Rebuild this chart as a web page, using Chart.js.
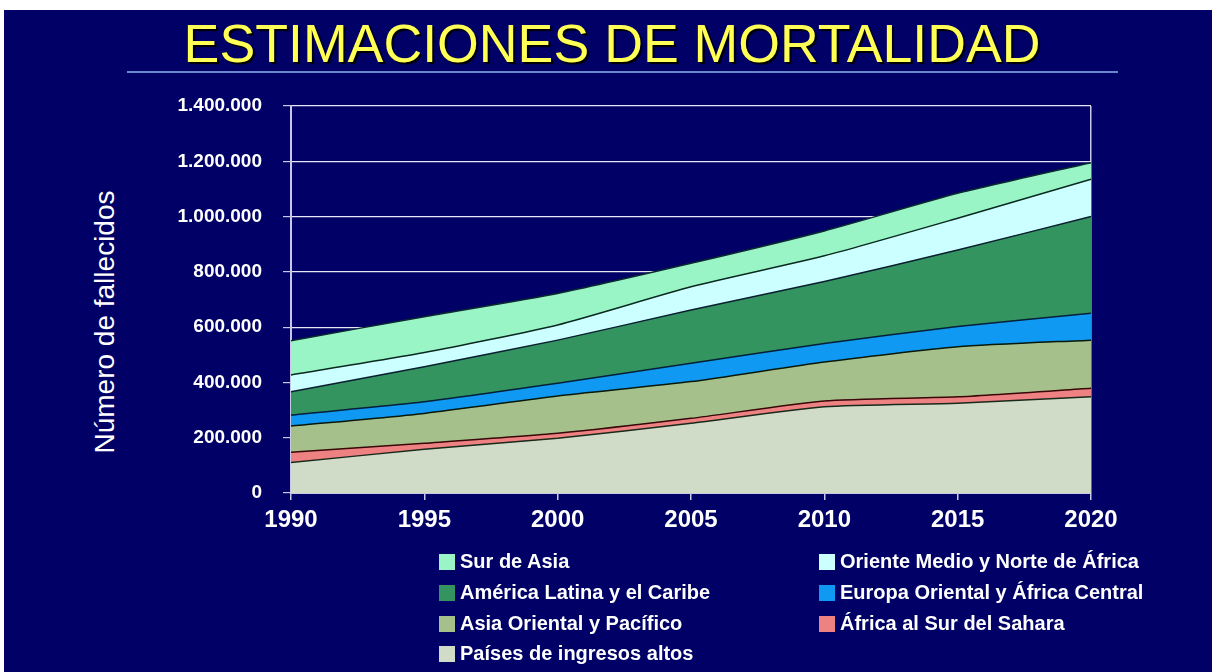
<!DOCTYPE html>
<html>
<head>
<meta charset="utf-8">
<script src="https://cdn.jsdelivr.net/npm/chart.js@4.4.1/dist/chart.umd.min.js"></script>
<style>
  html, body { margin:0; padding:0; background:#ffffff; width:1224px; height:672px; overflow:hidden; }
  #frame { position:absolute; left:4px; top:10px; width:1208px; height:662px; background:#000066; }
  #title { position:absolute; left:0; top:17px; width:1224px; text-align:center; font-family:"Liberation Sans", Arial, sans-serif;
           font-size:53px; line-height:53px; color:#ffff55; text-shadow:2px 2px 1px #000000; white-space:nowrap; }
  #title span { display:inline-block; transform-origin:center; }
  #rule { position:absolute; left:127px; top:71px; width:991px; height:2px; background:#6a86cc; }
  #ytitle { position:absolute; left:105px; top:322px; transform:translate(-50%,-50%) rotate(-90deg);
            font-family:"Liberation Sans", Arial, sans-serif; font-size:28px; color:#ffffff; white-space:nowrap; }
  canvas { position:absolute; left:0; top:0; }
  .leg { position:absolute; font-family:"Liberation Sans", Arial, sans-serif; font-weight:bold; font-size:20px; color:#ffffff; white-space:nowrap; }
  .leg i { position:absolute; left:0; top:0; width:16px; height:16px; }
  .leg b { position:absolute; left:21px; top:-4px; font-weight:bold; }
</style>
</head>
<body>
<div id="frame"></div>
<div id="title"><span id="tspan">ESTIMACIONES DE MORTALIDAD</span></div>
<div id="rule"></div>
<div id="ytitle">Número de fallecidos</div>
<canvas id="c" width="1224" height="672"></canvas>
<div id="legend"></div>
<script>
// Categories (years)
const years = ['1990', '1995', '2000', '2005', '2010', '2015', '2020'];

// Series values (deaths per region, stacked), bottom to top
const paisesAltos   = [110000, 158000, 198000, 252000, 312000, 325000, 348000];
const africaSur     = [ 37000,  22000,  18000,  18000,  21000,  23000,  31000];
const asiaOriental  = [ 95000, 108000, 135000, 133000, 141000, 181000, 174000];
const europaOrient  = [ 40000,  42000,  46000,  66000,  67000,  73000,  97000];
const americaLatina = [ 84000, 127000, 156000, 193000, 224000, 277000, 350000];
const orienteMedio  = [ 61000,  51000,  55000,  84000,  93000, 115000, 135000];
const surAsia       = [124000, 130000, 114000,  85000,  90000,  90000,  60000];

// Y tick values
const yTicks = [0, 200000, 400000, 600000, 800000, 1000000, 1200000, 1400000];

// fit title width
(function(){
  const s = document.getElementById('tspan');
  const w = s.getBoundingClientRect().width;
  s.style.transform = 'scaleX(' + (857 / w) + ')';
})();

const series = [
  { label: 'Países de ingresos altos', data: paisesAltos, bg: '#d0dcc8', line: '#1a2a1a' },
  { label: 'África al Sur del Sahara', data: africaSur, bg: '#ee8282', line: '#3a0808' },
  { label: 'Asia Oriental y Pacífico', data: asiaOriental, bg: '#a6c08c', line: '#0a1a0a' },
  { label: 'Europa Oriental y África Central', data: europaOrient, bg: '#0f99f2', line: '#06203a' },
  { label: 'América Latina y el Caribe', data: americaLatina, bg: '#339460', line: '#0a2030' },
  { label: 'Oriente Medio y Norte de África', data: orienteMedio, bg: '#ccffff', line: '#0a2a20' },
  { label: 'Sur de Asia', data: surAsia, bg: '#99f5c6', line: '#0a2a30' }
];

function fmt(v) { return String(v).replace(/\B(?=(\d{3})+(?!\d))/g, '.'); }

const axisCol = '#c8c8e6';

new Chart(document.getElementById('c'), {
  type: 'line',
  data: {
    labels: years,
    datasets: series.map((s, i) => ({
      label: s.label,
      data: s.data,
      backgroundColor: s.bg,
      borderColor: s.line,
      borderWidth: 1.5,
      fill: i === 0 ? 'origin' : '-1',
      pointRadius: 0,
      tension: 0.2
    }))
  },
  options: {
    responsive: false,
    animation: false,
    devicePixelRatio: 1,
    layout: { padding: { top: 106, right: 133, left: 0, bottom: 0 } },
    plugins: { legend: { display: false }, tooltip: { enabled: false } },
    scales: {
      x: {
        offset: false,
        afterFit: s => { s.height = 672 - 493; },
        grid: {
          color: c => (c.index === years.length - 1 ? axisCol : 'rgba(0,0,0,0)'),
          tickColor: axisCol, tickLength: 7, lineWidth: 1.5
        },
        border: { color: axisCol, width: 2 },
        ticks: { color: '#ffffff', font: { family: '"Liberation Sans", Arial, sans-serif', size: 24, weight: 'bold' }, padding: 6, maxRotation: 0 }
      },
      y: {
        stacked: true,
        min: 0, max: 1400000,
        afterFit: s => { s.width = 291; },
        afterBuildTicks: s => { s.ticks = yTicks.map(v => ({ value: v })); },
        grid: { color: '#e6e6f4', tickColor: axisCol, tickLength: 8, lineWidth: 1.2 },
        border: { color: axisCol, width: 2 },
        ticks: { color: '#ffffff', font: { family: '"Liberation Sans", Arial, sans-serif', size: 19, weight: 'bold' }, padding: 21, callback: v => fmt(v) }
      }
    }
  }
});

// Legend (two columns, top series first)
const legendOrder = [6, 5, 4, 3, 2, 1, 0];
const legendPos = [[439, 554], [819, 554], [439, 585], [819, 585], [439, 616], [819, 616], [439, 646]];
const lg = document.getElementById('legend');
legendOrder.forEach((idx, k) => {
  const d = document.createElement('div');
  d.className = 'leg';
  d.style.left = legendPos[k][0] + 'px';
  d.style.top = legendPos[k][1] + 'px';
  d.innerHTML = '<i style="background:' + series[idx].bg + '"></i><b>' + series[idx].label + '</b>';
  lg.appendChild(d);
});
</script>
</body>
</html>
